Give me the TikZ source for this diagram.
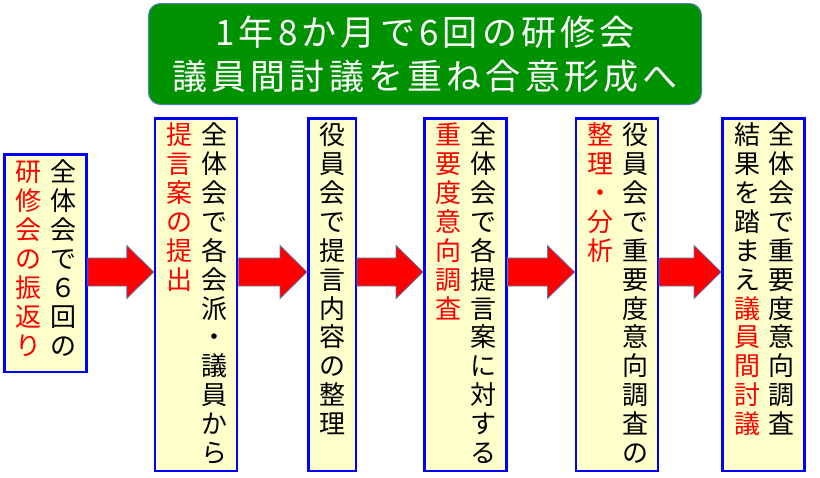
\documentclass[tikz,border=0pt]{standalone}
\usepackage{fontspec}
\setmainfont{Noto Sans CJK JP}
\newfontfamily\titlefont[LetterSpace=12]{Noto Sans CJK JP}
\usepackage{xcolor}
\usetikzlibrary{positioning,calc}
\definecolor{boxblue}{RGB}{0,0,255}
\definecolor{boxfill}{RGB}{255,255,204}
\definecolor{arrowred}{RGB}{255,0,0}
\definecolor{arrowedge}{RGB}{79,129,189}
\definecolor{bannergreen}{RGB}{0,146,0}

% one character per line (vertical writing)
\newcommand\tatestep[1]{\ifx\relax#1\else\hbox to 26pt{\hss\vrule height 22.6pt depth 6.3pt width 0pt#1\hss}\expandafter\tatestep\fi}
\newcommand\tatecol[1]{\vbox{\baselineskip=28.9pt\lineskip=0pt\lineskiplimit=0pt\tatestep#1\relax}}

% block arrow from the right side of one box to the left side of the next
\newcommand\redarrow[2]{%
  \filldraw[blockarrow] let \p1=(#1.east|-axis), \p2=(#2.west|-axis) in
    (\x1,\y1+14pt) -- (\x2-27pt,\y1+14pt) -- (\x2-27pt,\y1+26.5pt) -- (\x2,\y1)
    -- (\x2-27pt,\y1-26.5pt) -- (\x2-27pt,\y1-14pt) -- (\x1,\y1-14pt) -- cycle;}

\begin{document}
\begin{tikzpicture}[x=1pt, y=-1pt,
    stepbox/.style={draw=boxblue, line width=2.5pt, fill=boxfill, minimum width=82pt, minimum height=352.5pt},
    col/.style={anchor=north, inner sep=0pt, outer sep=0pt, font=\fontsize{26}{28.9}\selectfont},
    redcol/.style={col, text=arrowred},
    blockarrow/.style={fill=arrowred, draw=arrowedge, line width=0.75pt},
    banner/.style={draw=arrowedge, line width=1pt, fill=bannergreen, rounded corners=12pt, text=white,
      minimum width=553pt, minimum height=101pt, align=center, font=\titlefont\fontsize{35}{44}\selectfont}]
    \useasboundingbox (0,0) rectangle (820,477);

    % Title banner
    \node[banner] (title) at (425,54) {1年8か月で6回の研修会\\議員間討議を重ね合意形成へ};

    % Boxes
    \node[stepbox, minimum height=217.5pt] (review) at (45.5,263) {};
    \node[stepbox] (proposal) at (196,294.5) {};
    \node[stepbox, minimum width=47.5pt] (sort) at (332,294.5) {};
    \node[stepbox] (survey) at (465.3,294.5) {};
    \node[stepbox] (analysis) at (616.8,294.5) {};
    \node[stepbox] (debate) at (763.3,294.5) {};

    % Box texts
    \node[redcol] (review-l) at (29,159) {\tatecol{研修会の振返り}};
    \node[col] (review-r) at (63,159) {\tatecol{全体会で６回の}};
    \node[redcol] (proposal-l) at (179,122) {\tatecol{提言案の提出}};
    \node[col] (proposal-r) at (214,122) {\tatecol{全体会で各会派・議員から}};
    \node[col] (sort-c) at (332,122) {\tatecol{役員会で提言内容の整理}};
    \node[redcol] (survey-l) at (448,122) {\tatecol{重要度意向調査}};
    \node[col] (survey-r) at (483,122) {\tatecol{全体会で各提言案に対する}};
    \node[redcol] (analysis-l) at (600,122) {\tatecol{整理・分析}};
    \node[col] (analysis-r) at (635,122) {\tatecol{役員会で重要度意向調査の}};
    \node[col] (debate-l) at (747,122) {\tatecol{結果を踏まえ}};
    \node[redcol, below=0pt of debate-l] (debate-l2) {\tatecol{議員間討議}};
    \node[col] (debate-r) at (781,122) {\tatecol{全体会で重要度意向調査}};

    % Arrows between boxes
    \coordinate (axis) at (0,272);
    \redarrow{review}{proposal}
    \redarrow{proposal}{sort}
    \redarrow{sort}{survey}
    \redarrow{survey}{analysis}
    \redarrow{analysis}{debate}
\end{tikzpicture}
\end{document}
